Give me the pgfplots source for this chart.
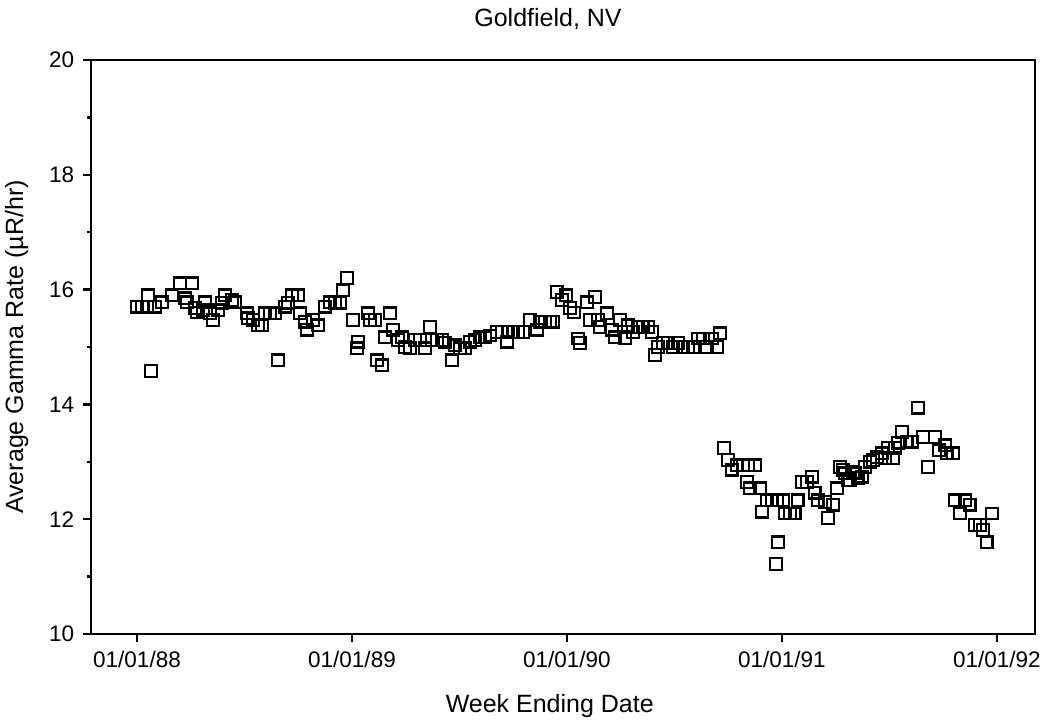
\documentclass[border=0pt]{standalone}
\usepackage{fontspec}
\setmainfont{Liberation Sans}
\usepackage{pgfplots}
\usepackage{pgfplotstable}
\pgfplotsset{compat=1.18}

% x = years since 01/01/88, y = average gamma rate (uR/hr)
\pgfplotstableread{
t y
0.000 15.70
0.023 15.70
0.047 15.70
0.051 15.90
0.065 14.58
0.084 15.70
0.116 15.78
0.163 15.90
0.200 16.11
0.223 15.85
0.233 15.78
0.256 16.11
0.270 15.68
0.279 15.60
0.307 15.64
0.316 15.78
0.340 15.59
0.353 15.47
0.377 15.64
0.395 15.77
0.409 15.90
0.442 15.82
0.456 15.78
0.512 15.59
0.516 15.50
0.540 15.47
0.563 15.38
0.581 15.38
0.595 15.59
0.619 15.59
0.642 15.59
0.656 14.77
0.688 15.70
0.702 15.77
0.721 15.90
0.749 15.90
0.758 15.59
0.781 15.44
0.791 15.30
0.819 15.47
0.842 15.38
0.874 15.70
0.898 15.78
0.921 15.77
0.944 15.77
0.958 15.99
0.977 16.20
1.005 15.47
1.023 14.98
1.028 15.09
1.074 15.59
1.084 15.47
1.107 15.47
1.116 14.77
1.140 14.68
1.153 15.17
1.177 15.59
1.191 15.30
1.214 15.12
1.233 15.17
1.247 15.00
1.270 14.98
1.293 15.12
1.316 15.12
1.340 14.98
1.363 15.35
1.372 15.12
1.395 15.12
1.419 15.12
1.433 15.08
1.465 14.77
1.479 15.03
1.502 14.98
1.526 14.98
1.549 15.09
1.572 15.12
1.595 15.17
1.619 15.17
1.642 15.20
1.674 15.26
1.698 15.26
1.721 15.09
1.726 15.26
1.749 15.26
1.772 15.26
1.795 15.26
1.828 15.47
1.860 15.30
1.874 15.44
1.898 15.44
1.921 15.44
1.935 15.44
1.953 15.96
1.977 15.82
1.995 15.90
2.014 15.68
2.033 15.60
2.051 15.15
2.060 15.07
2.093 15.78
2.107 15.47
2.130 15.87
2.144 15.47
2.153 15.35
2.186 15.59
2.209 15.30
2.223 15.17
2.247 15.47
2.270 15.15
2.284 15.38
2.307 15.26
2.330 15.35
2.353 15.35
2.377 15.35
2.395 15.26
2.409 14.86
2.423 15.00
2.447 15.07
2.470 15.07
2.493 15.00
2.516 15.07
2.540 15.00
2.563 15.00
2.586 15.00
2.609 15.15
2.633 15.15
2.651 15.00
2.674 15.15
2.698 15.00
2.712 15.24
2.730 13.24
2.749 13.03
2.767 12.86
2.791 12.94
2.819 12.94
2.837 12.65
2.842 12.94
2.851 12.54
2.874 12.94
2.898 12.54
2.907 12.13
2.930 12.33
2.953 12.33
2.972 11.22
2.977 12.33
2.981 11.60
3.005 12.33
3.014 12.10
3.037 12.10
3.060 12.10
3.074 12.33
3.093 12.65
3.116 12.65
3.140 12.74
3.153 12.46
3.167 12.33
3.200 12.30
3.214 12.02
3.237 12.25
3.256 12.54
3.270 12.91
3.284 12.86
3.293 12.80
3.307 12.68
3.316 12.68
3.330 12.82
3.340 12.80
3.353 12.72
3.372 12.74
3.386 12.91
3.409 13.00
3.423 13.03
3.442 13.08
3.465 13.15
3.479 13.06
3.493 13.24
3.516 13.06
3.526 13.24
3.540 13.33
3.558 13.52
3.581 13.35
3.605 13.35
3.633 13.94
3.656 13.43
3.679 12.91
3.712 13.43
3.730 13.20
3.758 13.29
3.767 13.15
3.795 13.15
3.805 12.33
3.828 12.10
3.851 12.33
3.874 12.25
3.898 11.90
3.921 11.90
3.935 11.81
3.953 11.60
3.977 12.10
}\goldfield

\begin{document}
\begin{tikzpicture}
\begin{axis}[
  name=ax,
  scale only axis,
  width=377.6pt, height=229.6pt,
  xmin=-0.214, xmax=4.177,
  ymin=10, ymax=20,
  xtick={0,1,2,3,4},
  xticklabels={01/01/88,01/01/89,01/01/90,01/01/91,01/01/92},
  ytick={10,12,14,16,18,20},
  minor ytick={11,13,15,17,19},
  tick align=outside,
  xtick pos=bottom, ytick pos=left,
  major tick length=3.2pt, minor tick length=1.6pt,
  axis line style={line width=1.1pt},
  every tick/.style={black, line width=0.9pt},
  tick label style={font=\fontsize{9}{11}\selectfont},
  /pgf/number format/assume math mode=true,
  xlabel={Week Ending Date},
  xlabel style={font=\fontsize{10}{12}\selectfont, at={(axis description cs:0.486,-0.136)}, anchor=base, inner sep=0pt},
  ylabel={Average Gamma Rate (µR/hr)},
  ylabel style={font=\fontsize{10}{12}\selectfont, at={(axis description cs:-0.066,0.5)}, anchor=south, inner sep=0pt},
]
\addplot[only marks, mark=square, mark size=2.3pt, mark options={line width=0.9pt, black}] table[x=t, y=y] {\goldfield};
\end{axis}
\node[font=\fontsize{10}{12}\selectfont, anchor=base, inner sep=0pt]
  at ([shift={(-6pt,13.6pt)}]ax.north) {Goldfield, NV};
\pgfresetboundingbox
\path ([shift={(-36.4pt,-36.4pt)}]ax.south west) rectangle ([shift={(4.4pt,24pt)}]ax.north east);
\end{tikzpicture}
\end{document}
